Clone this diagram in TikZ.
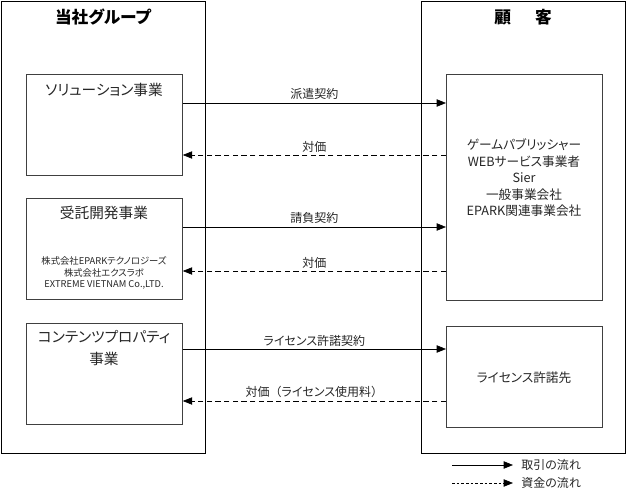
\documentclass[tikz,border=0pt]{standalone}
\usepackage{fontspec}
\setmainfont{Noto Sans CJK JP}[RawFeature={+palt}]
\usetikzlibrary{arrows.meta}

\newcommand{\wideparen}[1]{{\addfontfeature{RawFeature=-palt}#1}}

\tikzset{
  outer/.style={draw, line width=1.1pt, inner sep=0pt, anchor=north west,
    minimum width=153pt, minimum height=339pt},
  unit/.style={draw=black!75, line width=0.6pt, inner sep=0pt, anchor=north west,
    minimum width=117pt, minimum height=76pt},
  flow/.style={-{Triangle[length=7pt,width=5.5pt]}, line width=0.5pt},
  money/.style={flow, dash pattern=on 4pt off 2.5pt},
  title/.style={font=\fontsize{12.5}{14}\selectfont\bfseries},
  head/.style={font=\fontsize{11}{16.5}\selectfont, text=black!85},
  body/.style={font=\fontsize{9.5}{12.4}\selectfont, text=black!85},
  small/.style={font=\fontsize{7}{8.6}\selectfont, text=black!85},
  lbl/.style={font=\fontsize{9}{10}\selectfont, text=black!85, above, inner sep=2pt}
}

\begin{document}
\begin{tikzpicture}[x=0.75pt,y=-0.75pt]
  \useasboundingbox (0,0) rectangle (626,496);

  % two sides
  \node[outer] (grp) at (1,1) {};
  \node[outer] (cust) at (421,1) {};
  \node[title] (grpname) at (103,17) {当社グループ};
  \node[title] (custname) at (523,17) {顧\hspace{18pt}客};

  % our businesses
  \node[unit] (sol) at (26,74) {};
  \node[unit] (dev) at (26,198) {};
  \node[unit] (cnt) at (26,323) {};
  \node[head] (solname) at (104,90) {ソリューション事業};
  \node[head] (devname) at (104,213) {受託開発事業};
  \node[small, align=center] (devcos) at (104,273)
    {株式会社EPARKテクノロジーズ\\株式会社エクスラボ\\EXTREME VIETNAM Co.,LTD.};
  \node[head, align=center] (cntname) at (104,348) {コンテンツプロパティ\\事業};

  % customers
  \node[unit, minimum height=169.5pt] (cli) at (446,74) {};
  \node[unit] (lic) at (446,326) {};
  \node[body, align=center] (cliname) at (524,178)
    {ゲームパブリッシャー\\WEBサービス事業者\\Sier\\一般事業会社\\EPARK関連事業会社};
  \node[body] (licname) at (524,378) {ライセンス許諾先};

  % flows
  \draw[flow] (sol.east |- 0,103) -- node[lbl] {派遣契約} (cli.west |- 0,103);
  \draw[money] (cli.west |- 0,155) -- node[lbl] {対価} (sol.east |- 0,155);
  \draw[flow] (dev.east |- 0,227) -- node[lbl] {請負契約} (cli.west |- 0,227);
  \draw[money] (cli.west |- 0,271) -- node[lbl] {対価} (dev.east |- 0,271);
  \draw[flow] (cnt.east |- 0,349) -- node[lbl] {ライセンス許諾契約} (lic.west |- 0,349);
  \draw[money] (lic.west |- 0,401) -- node[lbl] {対価\wideparen{（}ライセンス使用料\wideparen{）}} (cnt.east |- 0,401);

  % legend
  \coordinate (k1a) at (452,465);
  \coordinate (k1b) at (513,465);
  \coordinate (k2a) at (452,483);
  \coordinate (k2b) at (513,483);
  \draw[flow] (k1a) -- (k1b) node[lbl, right, inner sep=6pt] (k1) {取引の流れ};
  \draw[flow, dash pattern=on 2pt off 1.5pt] (k2a) -- (k2b)
    node[lbl, right, inner sep=6pt] (k2) {資金の流れ};
\end{tikzpicture}
\end{document}
